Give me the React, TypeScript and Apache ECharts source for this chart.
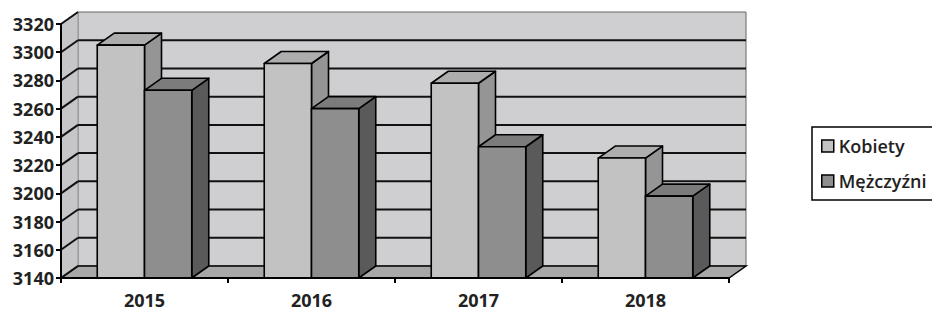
import React, { useEffect, useRef } from "react";
import * as echarts from "echarts";

const years = ["2015", "2016", "2017", "2018"];
const kobiety = [3305, 3292, 3278, 3225];
const mezczyzni = [3273, 3260, 3233, 3198];
const yTicks = [3140, 3160, 3180, 3200, 3220, 3240, 3260, 3280, 3300, 3320];
const seriesNames = ["Kobiety", "Mężczyźni"];

const Y_MIN = 3140;
const Y_MAX = 3320;
const DX = 17;
const DY = -12;
const FONT = "'Open Sans', 'Noto Sans', sans-serif";

const palette = [
  { front: "#c2c2c2", top: "#adadad", side: "#959595" },
  { front: "#8e8e8e", top: "#7c7c7c", side: "#5a5a5a" },
];

export default function App() {
  const ref = useRef<HTMLDivElement>(null);

  useEffect(() => {
    if (!ref.current) return;
    const chart = echarts.init(ref.current, null, { renderer: "svg" });

    const wallRender = (params: any, api: any) => {
      const cs = params.coordSys;
      const x0 = cs.x;
      const x1 = cs.x + cs.width;
      const base = api.coord([0, Y_MIN])[1];
      const top = api.coord([0, Y_MAX])[1];
      const children: any[] = [];
      children.push({
        type: "rect",
        shape: { x: x0 + DX, y: top + DY, width: x1 - x0, height: base - top },
        style: { fill: "#cfcfd2", stroke: "#666", lineWidth: 1 },
      });
      children.push({
        type: "polygon",
        shape: { points: [[x0, base], [x0 + DX, base + DY], [x0 + DX, top + DY], [x0, top]] },
        style: { fill: "#c6c6c8", stroke: "#999", lineWidth: 1 },
      });
      children.push({
        type: "polygon",
        shape: { points: [[x0, base], [x1, base], [x1 + DX, base + DY], [x0 + DX, base + DY]] },
        style: { fill: "#a8a8a8", stroke: "#000", lineWidth: 1.5 },
      });
      yTicks.forEach((v) => {
        const y = api.coord([0, v])[1];
        if (v !== Y_MIN && v !== Y_MAX) {
          children.push({
            type: "line",
            shape: { x1: x0 + DX, y1: y + DY, x2: x1 + DX, y2: y + DY },
            style: { stroke: "#111", lineWidth: 2 },
          });
        }
        children.push({
          type: "line",
          shape: { x1: x0, y1: y, x2: x0 + DX, y2: y + DY },
          style: { stroke: "#111", lineWidth: 2 },
        });
      });
      return { type: "group", children };
    };

    const barRender = (s: number) => (params: any, api: any) => {
      const idx = api.value(0);
      const val = api.value(1);
      const c = api.coord([idx, val]);
      const band = api.size([1, 0])[0];
      const w = band * 0.283;
      const x = s === 0 ? c[0] - w : c[0];
      const top = c[1];
      const base = api.coord([idx, Y_MIN])[1];
      const col = palette[s];
      const st = { stroke: "#000", lineWidth: 1.6, lineJoin: "round" };
      return {
        type: "group",
        children: [
          {
            type: "polygon",
            shape: { points: [[x + w, top], [x + w + DX, top + DY], [x + w + DX, base + DY], [x + w, base]] },
            style: { fill: col.side, ...st },
          },
          {
            type: "polygon",
            shape: { points: [[x, top], [x + DX, top + DY], [x + w + DX, top + DY], [x + w, top]] },
            style: { fill: col.top, ...st },
          },
          {
            type: "rect",
            shape: { x, y: top, width: w, height: base - top },
            style: { fill: col.front, ...st },
          },
        ],
      };
    };

    chart.setOption({
      animation: false,
      backgroundColor: "#ffffff",
      grid: { left: 61, right: 203, top: 24, bottom: 34, containLabel: false },
      legend: {
        orient: "vertical",
        left: 812,
        top: 127,
        icon: "rect",
        itemWidth: 12,
        itemHeight: 12,
        itemGap: 17,
        itemStyle: { borderColor: "#000", borderWidth: 1.5 },
        padding: [10, 14, 10, 9],
        borderColor: "#000",
        borderWidth: 1.5,
        textStyle: { fontFamily: FONT, fontSize: 18, fontWeight: 600, color: "#222" },
        data: seriesNames.map((n, i) => ({
          name: n,
          itemStyle: { color: palette[i].front, borderColor: "#000", borderWidth: 1.5 },
        })),
      },
      xAxis: {
        type: "category",
        data: years,
        z: 10,
        axisLine: { show: true, lineStyle: { color: "#000", width: 2 } },
        axisTick: { show: true, length: 5, lineStyle: { color: "#000", width: 2 } },
        axisLabel: { margin: 13, fontFamily: FONT, fontSize: 18, fontWeight: "bold", color: "#222" },
        splitLine: { show: false },
      },
      yAxis: {
        type: "value",
        min: Y_MIN,
        max: Y_MAX,
        interval: 20,
        z: 10,
        axisLine: { show: true, lineStyle: { color: "#000", width: 2 } },
        axisTick: { show: true, length: 5, lineStyle: { color: "#000", width: 2 } },
        axisLabel: {
          margin: 7,
          fontFamily: FONT,
          fontSize: 18,
          fontWeight: "bold",
          color: "#222",
          formatter: (v: number) => String(v),
        },
        splitLine: { show: false },
      },
      series: [
        {
          type: "custom",
          name: "walls",
          silent: true,
          clip: false,
          renderItem: wallRender,
          data: [[0, Y_MIN]],
          encode: { x: 0, y: 1 },
          z: 1,
        },
        {
          type: "custom",
          name: seriesNames[0],
          clip: false,
          renderItem: barRender(0),
          itemStyle: { color: palette[0].front },
          data: years.map((_, i) => [i, kobiety[i]]),
          encode: { x: 0, y: 1 },
          z: 3,
        },
        {
          type: "custom",
          name: seriesNames[1],
          clip: false,
          renderItem: barRender(1),
          itemStyle: { color: palette[1].front },
          data: years.map((_, i) => [i, mezczyzni[i]]),
          encode: { x: 0, y: 1 },
          z: 4,
        },
      ],
    });

    return () => chart.dispose();
  }, []);

  return (
    <div
      ref={ref}
      style={{ position: "fixed", left: 0, top: 0, width: 932, height: 312 }}
    />
  );
}
